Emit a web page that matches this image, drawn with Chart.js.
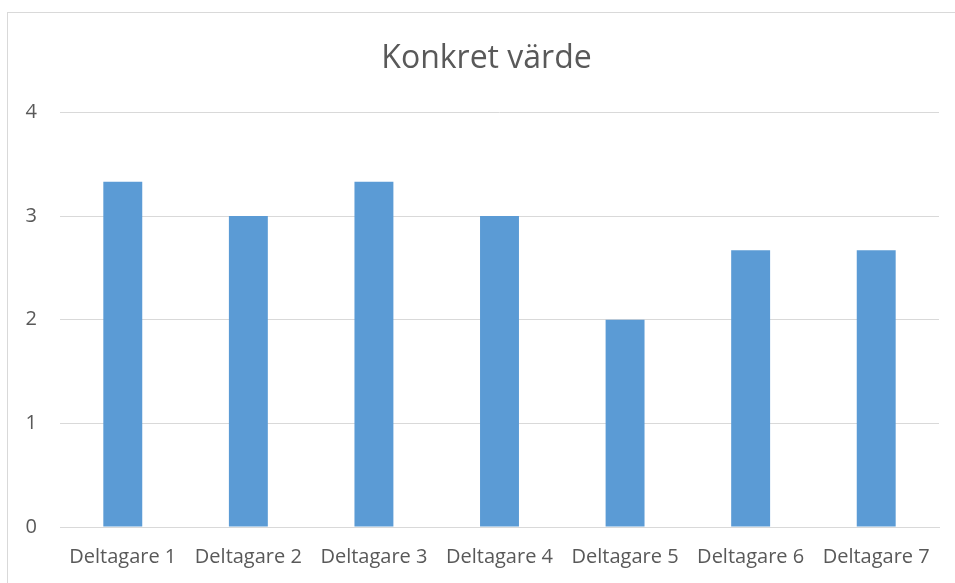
<!DOCTYPE html>
<html>
<head>
<meta charset="utf-8">
<script src="https://cdn.jsdelivr.net/npm/chart.js@4/dist/chart.umd.min.js"></script>
<style>
  html, body { margin: 0; padding: 0; background: #fff; overflow: hidden; }
  #wrap { position: relative; width: 955px; height: 583px; }
  #frame { position: absolute; left: 7px; top: 12px; width: 1000px; height: 1000px; border: 1px solid #d9d9d9; }
  canvas { position: absolute; left: 0; top: 0; }
</style>
</head>
<body>
<div id="wrap">
  <div id="frame"></div>
  <canvas id="chart" width="955" height="583"></canvas>
</div>
<script>
(function () {
  'use strict';

  var categories = ['Deltagare 1', 'Deltagare 2', 'Deltagare 3', 'Deltagare 4', 'Deltagare 5', 'Deltagare 6', 'Deltagare 7'];
  var values = [3.33, 3, 3.33, 3, 2, 2.67, 2.67];
  var yTicks = [0, 1, 2, 3, 4];

  var textColor = '#595959';
  var gridColor = '#d9d9d9';
  var barColor = '#5b9bd5';
  var fontFamily = '"Open Sans", "Liberation Sans", sans-serif';

  // nudge the title box so its centre sits where the original one does
  var titleShift = {
    id: 'titleShift',
    afterLayout: function (chart) {
      if (chart.titleBlock) chart.titleBlock.left += 34;
    }
  };

  new Chart(document.getElementById('chart').getContext('2d'), {
    type: 'bar',
    data: {
      labels: categories,
      datasets: [{
        label: 'Konkret värde',
        data: values,
        backgroundColor: barColor,
        borderWidth: 0,
        categoryPercentage: 1,
        barPercentage: 0.31
      }]
    },
    options: {
      responsive: false,
      animation: false,
      layout: { padding: { left: 0, right: 16, top: 0, bottom: 0 } },
      plugins: {
        legend: { display: false },
        tooltip: { enabled: false },
        title: {
          display: true,
          text: 'Konkret värde',
          color: textColor,
          font: { family: fontFamily, size: 32, weight: 'normal' },
          padding: { top: 40, bottom: 34 }
        }
      },
      scales: {
        x: {
          grid: { display: false, drawTicks: false },
          border: { display: true, color: gridColor, width: 1 },
          ticks: { color: textColor, font: { family: fontFamily, size: 20 }, padding: 18, maxRotation: 0, autoSkip: false },
          afterFit: function (s) { s.height = 56; }
        },
        y: {
          min: 0,
          max: 4,
          afterBuildTicks: function (s) { s.ticks = yTicks.map(function (v) { return { value: v }; }); },
          grid: { color: gridColor, lineWidth: 1, drawTicks: false },
          border: { display: false },
          ticks: { color: textColor, font: { family: fontFamily, size: 20 }, padding: 23 },
          afterFit: function (s) { s.width = 60; }
        }
      }
    },
    plugins: [titleShift]
  });
})();
</script>
</body>
</html>
